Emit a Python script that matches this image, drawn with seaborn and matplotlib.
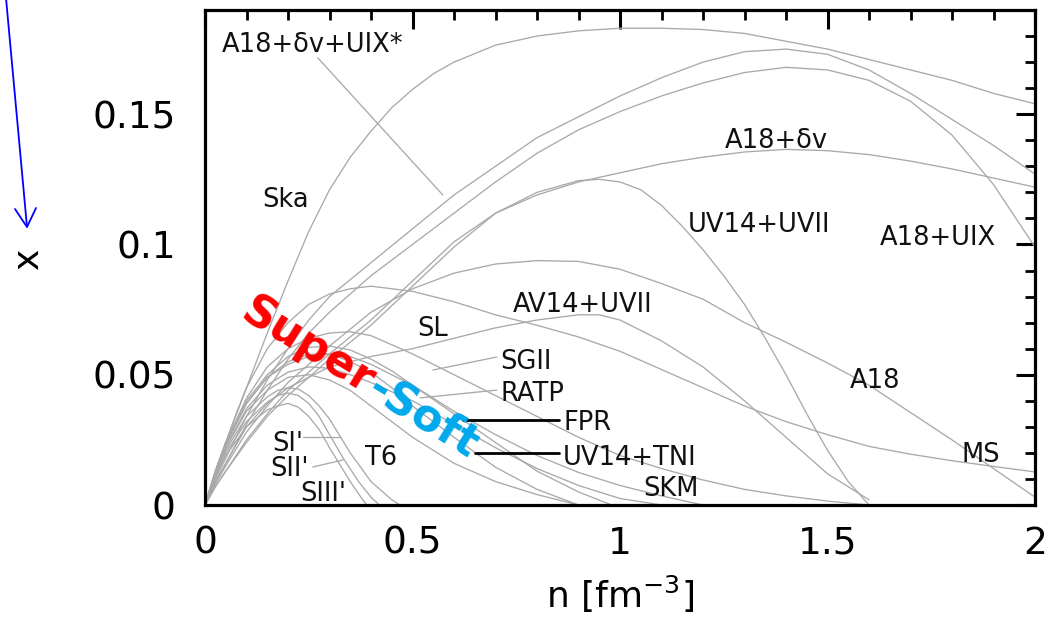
import numpy as np
import pandas as pd
import matplotlib
matplotlib.use("Agg")
import matplotlib.pyplot as plt
from matplotlib.lines import Line2D
from matplotlib.ticker import MultipleLocator, FuncFormatter
import seaborn as sns

# Proton fraction x versus baryon density n [fm^-3] for several equations of state
n_ska = [0, 0.025, 0.05, 0.075, 0.1, 0.15, 0.2, 0.25, 0.3, 0.35, 0.4, 0.45, 0.5, 0.55, 0.6,
         0.7, 0.8, 0.9, 1.0, 1.1, 1.2, 1.3, 1.4, 1.5, 1.6, 1.7, 1.8, 1.9, 2.0]
x_ska = [0, 0.013, 0.024, 0.035, 0.045, 0.066, 0.086, 0.105, 0.121, 0.1335, 0.1435, 0.1525,
         0.1595, 0.1655, 0.170, 0.1765, 0.180, 0.182, 0.183, 0.183, 0.1825, 0.181, 0.178,
         0.175, 0.171, 0.167, 0.163, 0.158, 0.154]

n_a18dvuix = [0, 0.025, 0.05, 0.1, 0.15, 0.2, 0.25, 0.3, 0.4, 0.5, 0.6, 0.7, 0.8, 0.9, 1.0,
              1.1, 1.2, 1.3, 1.4, 1.5, 1.6, 1.7, 1.8, 1.9, 2.0]
x_a18dvuix = [0, 0.010, 0.018, 0.034, 0.048, 0.060, 0.071, 0.080, 0.093, 0.106, 0.119, 0.130,
              0.141, 0.149, 0.157, 0.164, 0.170, 0.174, 0.175, 0.173, 0.167, 0.158, 0.148,
              0.138, 0.127]

n_a18uix = [0, 0.025, 0.05, 0.1, 0.15, 0.2, 0.25, 0.3, 0.4, 0.5, 0.6, 0.7, 0.8, 0.9, 1.0,
            1.1, 1.2, 1.3, 1.4, 1.5, 1.6, 1.7, 1.8, 1.9, 2.0]
x_a18uix = [0, 0.009, 0.016, 0.031, 0.044, 0.056, 0.066, 0.074, 0.088, 0.100, 0.112, 0.124,
            0.135, 0.144, 0.151, 0.157, 0.162, 0.166, 0.168, 0.167, 0.163, 0.155, 0.142,
            0.123, 0.099]

n_a18dv = [0, 0.025, 0.05, 0.1, 0.15, 0.2, 0.3, 0.4, 0.5, 0.6, 0.7, 0.8, 0.9, 1.0, 1.1,
           1.2, 1.3, 1.4, 1.5, 1.6, 1.7, 1.8, 1.9, 2.0]
x_a18dv = [0, 0.007, 0.013, 0.025, 0.035, 0.044, 0.058, 0.071, 0.086, 0.101, 0.112, 0.119,
           0.124, 0.1275, 0.131, 0.1335, 0.1355, 0.1365, 0.136, 0.1345, 0.132, 0.129,
           0.1255, 0.122]

n_uv14uvii = [0, 0.025, 0.05, 0.1, 0.15, 0.2, 0.3, 0.4, 0.5, 0.6, 0.7, 0.8, 0.9, 0.95, 1.0,
              1.05, 1.1, 1.15, 1.2, 1.25, 1.3, 1.35, 1.4, 1.45, 1.5, 1.55, 1.6]
x_uv14uvii = [0, 0.007, 0.013, 0.024, 0.034, 0.042, 0.056, 0.069, 0.084, 0.099, 0.112, 0.120,
              0.1245, 0.125, 0.124, 0.121, 0.115, 0.107, 0.098, 0.088, 0.077, 0.064, 0.050,
              0.035, 0.021, 0.009, 0.0]

n_a18 = [0, 0.025, 0.05, 0.1, 0.15, 0.2, 0.3, 0.4, 0.5, 0.6, 0.7, 0.8, 0.9, 1.0, 1.1, 1.2,
         1.3, 1.4, 1.5, 1.6, 1.7, 1.8, 1.9, 2.0]
x_a18 = [0, 0.008, 0.015, 0.028, 0.038, 0.047, 0.061, 0.074, 0.083, 0.089, 0.0925, 0.0938,
         0.0935, 0.0905, 0.085, 0.079, 0.070, 0.0625, 0.0545, 0.046, 0.0355, 0.025, 0.014, 0.003]

n_sl = [0, 0.025, 0.05, 0.1, 0.15, 0.2, 0.3, 0.4, 0.5, 0.6, 0.7, 0.8, 0.9, 0.95, 1.0, 1.1,
        1.2, 1.3, 1.4, 1.5, 1.6]
x_sl = [0, 0.009, 0.016, 0.030, 0.039, 0.045, 0.053, 0.057, 0.060, 0.064, 0.068, 0.071,
        0.073, 0.073, 0.071, 0.063, 0.053, 0.040, 0.026, 0.012, 0.002]

n_ms = [0, 0.025, 0.05, 0.1, 0.15, 0.2, 0.25, 0.3, 0.35, 0.4, 0.5, 0.6, 0.7, 0.8, 0.9, 1.0,
        1.1, 1.2, 1.3, 1.4, 1.5, 1.6, 1.7, 1.8, 1.9, 2.0]
x_ms = [0, 0.013, 0.024, 0.045, 0.060, 0.070, 0.077, 0.081, 0.083, 0.084, 0.082, 0.078,
        0.073, 0.069, 0.0645, 0.059, 0.052, 0.045, 0.038, 0.032, 0.027, 0.0225, 0.0195,
        0.017, 0.0148, 0.0127]

n_sgii = [0, 0.025, 0.05, 0.1, 0.15, 0.2, 0.25, 0.3, 0.35, 0.4, 0.5, 0.6, 0.7, 0.8, 0.9,
          1.0, 1.1, 1.2, 1.3, 1.4, 1.5, 1.6]
x_sgii = [0, 0.013, 0.024, 0.041, 0.053, 0.060, 0.064, 0.066, 0.0665, 0.065, 0.058, 0.050,
          0.042, 0.034, 0.026, 0.019, 0.014, 0.0096, 0.006, 0.0035, 0.0015, 0.0]

n_ratp = [0, 0.025, 0.05, 0.1, 0.15, 0.2, 0.25, 0.3, 0.35, 0.4, 0.5, 0.6, 0.7, 0.8, 0.9,
          1.0, 1.1]
x_ratp = [0, 0.012, 0.022, 0.037, 0.046, 0.051, 0.053, 0.0525, 0.050, 0.047, 0.040, 0.031,
          0.022, 0.014, 0.0075, 0.0025, 0.0]

n_fpr = [0, 0.025, 0.05, 0.1, 0.15, 0.2, 0.25, 0.3, 0.35, 0.4, 0.45, 0.5, 0.6, 0.7, 0.8,
         0.9, 0.98]
x_fpr = [0, 0.013, 0.024, 0.040, 0.050, 0.057, 0.0605, 0.061, 0.0595, 0.056, 0.0515, 0.046,
         0.035, 0.024, 0.013, 0.005, 0.0]

n_uv14tni = [0, 0.025, 0.05, 0.1, 0.15, 0.2, 0.25, 0.3, 0.35, 0.4, 0.45, 0.5, 0.6, 0.7,
             0.8, 0.9]
x_uv14tni = [0, 0.012, 0.023, 0.039, 0.049, 0.055, 0.0578, 0.058, 0.055, 0.051, 0.045,
             0.038, 0.026, 0.0145, 0.006, 0.0]

n_skm = [0, 0.025, 0.05, 0.1, 0.15, 0.2, 0.25, 0.3, 0.35, 0.4, 0.5, 0.6, 0.7, 0.8, 0.9,
         1.0, 1.1, 1.2]
x_skm = [0, 0.012, 0.023, 0.039, 0.049, 0.054, 0.057, 0.058, 0.057, 0.054, 0.046, 0.036,
         0.027, 0.019, 0.0125, 0.0075, 0.0035, 0.0]

n_t6 = [0, 0.025, 0.05, 0.1, 0.15, 0.2, 0.25, 0.3, 0.35, 0.4, 0.5, 0.6, 0.7, 0.8, 0.9]
x_t6 = [0, 0.012, 0.022, 0.036, 0.044, 0.049, 0.050, 0.048, 0.044, 0.038, 0.026, 0.016,
        0.009, 0.004, 0.0]

n_si = [0, 0.025, 0.05, 0.1, 0.15, 0.175, 0.2, 0.225, 0.25, 0.275, 0.3, 0.35, 0.4, 0.45, 0.47]
x_si = [0, 0.012, 0.021, 0.034, 0.0415, 0.044, 0.045, 0.0445, 0.042, 0.038, 0.033, 0.020,
        0.009, 0.002, 0.0]

n_sii = [0, 0.025, 0.05, 0.1, 0.15, 0.175, 0.2, 0.225, 0.25, 0.275, 0.3, 0.333, 0.37, 0.4, 0.42]
x_sii = [0, 0.011, 0.020, 0.032, 0.0395, 0.042, 0.043, 0.042, 0.039, 0.034, 0.027, 0.018,
         0.009, 0.003, 0.0]

n_siii = [0, 0.025, 0.05, 0.1, 0.15, 0.175, 0.2, 0.225, 0.25, 0.275, 0.3, 0.35, 0.38, 0.39]
x_siii = [0, 0.011, 0.019, 0.030, 0.0365, 0.038, 0.039, 0.0375, 0.034, 0.029, 0.022, 0.009,
          0.002, 0.0]

curves = {
    "Ska": (n_ska, x_ska),
    "A18+dv+UIX*": (n_a18dvuix, x_a18dvuix),
    "A18+UIX": (n_a18uix, x_a18uix),
    "A18+dv": (n_a18dv, x_a18dv),
    "UV14+UVII": (n_uv14uvii, x_uv14uvii),
    "A18": (n_a18, x_a18),
    "SL": (n_sl, x_sl),
    "MS": (n_ms, x_ms),
    "SGII": (n_sgii, x_sgii),
    "RATP": (n_ratp, x_ratp),
    "FPR": (n_fpr, x_fpr),
    "UV14+TNI": (n_uv14tni, x_uv14tni),
    "SKM": (n_skm, x_skm),
    "T6": (n_t6, x_t6),
    "SI'": (n_si, x_si),
    "SII'": (n_sii, x_sii),
    "SIII'": (n_siii, x_siii),
}

df = pd.concat(
    [pd.DataFrame({"n": n, "x": x, "eos": name}) for name, (n, x) in curves.items()],
    ignore_index=True,
)

# Curve labels: text, left edge n, vertical centre x
label_text = ["A18+δv+UIX*", "Ska", "A18+δv", "UV14+UVII", "A18+UIX", "AV14+UVII", "SL",
              "SGII", "RATP", "FPR", "UV14+TNI", "SKM", "A18", "MS", "SI'", "SII'", "SIII'", "T6"]
label_n = [0.041, 0.137, 1.253, 1.164, 1.627, 0.742, 0.511, 0.711, 0.711, 0.863, 0.863,
           1.055, 1.554, 1.824, 0.161, 0.157, 0.229, 0.386]
label_x = [0.1777, 0.1182, 0.1409, 0.1086, 0.1036, 0.0779, 0.0687, 0.0560, 0.0438, 0.0326,
           0.0192, 0.0073, 0.0488, 0.0203, 0.0246, 0.0150, 0.0054, 0.0192]

sns.set_style("white")
plt.rcParams["font.family"] = ["DejaVu Sans"]
plt.rcParams["mathtext.fontset"] = "dejavusans"
plt.rcParams["text.color"] = "black"
plt.rcParams["axes.labelcolor"] = "black"

W, H = 1057, 620
fig = plt.figure(figsize=(W / 100, H / 100), dpi=100)
ax = fig.add_axes([205 / W, 1 - 505 / H, 830 / W, 495 / H])

curve_gray = "#a9a9a9"
sns.lineplot(data=df, x="n", y="x", units="eos", estimator=None, sort=False,
             color=curve_gray, linewidth=0.95, ax=ax, legend=False)

ax.set_xlim(0, 2)
ax.set_ylim(0, 0.19)

# Pointer lines tying labels to their curves
gray_pointers = [
    ((0.272, 0.573), (0.1716, 0.1190)),
    ((0.236, 0.325), (0.0261, 0.0261)),
    ((0.260, 0.333), (0.0146, 0.0173)),
    ((0.549, 0.703), (0.0518, 0.0568)),
    ((0.518, 0.703), (0.0411, 0.0441)),
]
for xs, ys in gray_pointers:
    ax.plot(xs, ys, color=curve_gray, lw=0.95)
ax.plot([0.622, 0.853], [0.0326, 0.0326], color="black", lw=2.0)
ax.plot([0.651, 0.853], [0.0200, 0.0200], color="black", lw=2.0)

for t, nx, xx in zip(label_text, label_n, label_x):
    ax.text(nx, xx, t, fontsize=18.5, color="#111111", ha="left", va="center_baseline")

# Axes frame and ticks
for sp in ax.spines.values():
    sp.set_linewidth(2.3)
    sp.set_color("black")
ax.xaxis.set_major_locator(MultipleLocator(0.5))
ax.xaxis.set_minor_locator(MultipleLocator(0.1))
ax.yaxis.set_major_locator(MultipleLocator(0.05))
ax.yaxis.set_minor_locator(MultipleLocator(0.01))
fmt = FuncFormatter(lambda v, p: f"{v:g}")
ax.xaxis.set_major_formatter(fmt)
ax.yaxis.set_major_formatter(fmt)
ax.tick_params(which="both", direction="in", top=True, right=True, colors="black",
               labelcolor="black")
ax.tick_params(which="major", length=13.5, width=2.2, labelsize=27)
ax.tick_params(which="minor", length=7.2, width=2.0)
ax.tick_params(axis="x", which="major", pad=15)
ax.tick_params(axis="y", which="major", pad=21)

ax.set_xlabel("n [fm$^{-3}$]", fontsize=26, color="black")
ax.xaxis.label.set_va("baseline")
ax.xaxis.set_label_coords(0.5, (505 - 608) / 495)
ax.set_ylabel("x", fontsize=26, rotation=90, color="black")
ax.yaxis.label.set_va("center")
ax.yaxis.label.set_ha("center")
ax.yaxis.set_label_coords((28 - 205) / 830, (505 - 258) / 495)

# Blue arrow pointing at the x axis label
def fig_xy(px, py):
    return px / W, 1 - py / H

arrow = [(6, -2), (27, 227)]
head = [(15, 209), (27, 227), (36, 208)]
for pts in (arrow, head):
    xs, ys = zip(*[fig_xy(*p) for p in pts])
    fig.add_artist(Line2D(xs, ys, transform=fig.transFigure, color="#0000ff", lw=1.3,
                          solid_joinstyle="miter"))

# Two-tone rotated "Super-Soft" annotation
renderer = fig.canvas.get_renderer()
parts = [("Super", "#ff0000"), ("-Soft", "#00a8ec")]
kw = dict(fontsize=32, fontweight="bold")
widths = []
for s, _ in parts:
    tmp = fig.text(0, 0, s, **kw)
    widths.append(tmp.get_window_extent(renderer).width)
    tmp.remove()
angle = -31.5
th = np.deg2rad(angle)
ux, uy = np.cos(th), np.sin(th)
cx, cy = 360, H - 378
x0 = cx - sum(widths) / 2 * ux
y0 = cy - sum(widths) / 2 * uy
off = 0.0
for (s, c), w in zip(parts, widths):
    fig.text((x0 + off * ux) / W, (y0 + off * uy) / H, s, color=c, rotation=angle,
             rotation_mode="anchor", ha="left", va="center", **kw)
    off += w

fig.savefig("out.png", dpi=100, facecolor="white")
